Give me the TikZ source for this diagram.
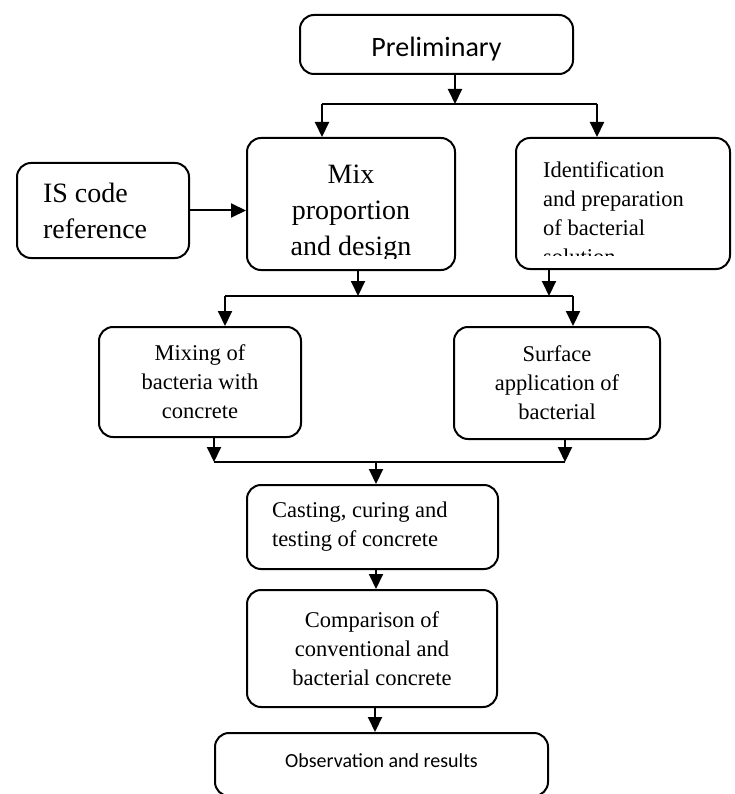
\documentclass[tikz,border=0pt]{standalone}
\usepackage{fontspec}
\setmainfont{Liberation Serif}
\newfontfamily\calib{Carlito}
\usetikzlibrary{arrows.meta}
\begin{document}
\begin{tikzpicture}[x=1pt,y=-1pt,>={Triangle[length=15pt,width=14pt]},line join=round,
		box/.style={draw,line width=2pt,rounded corners=14pt,inner sep=0pt},
		big/.style={font=\fontsize{28}{36}\selectfont},
		mid/.style={font=\fontsize{22.5}{29}\selectfont},
		link/.style={line width=2pt}]
	\useasboundingbox (0,0) rectangle (734,794);
	% boxes
	\node[box,minimum width=273pt,minimum height=59pt,text height=25pt,text depth=0pt,font=\calib\fontsize{28}{34}\selectfont] (pre) at (436.5,44.5) {Preliminary};
	\node[box,big,align=flush left,text width=120pt,minimum width=172pt,minimum height=95pt] (iscode) at (103,210.5) {IS code\\reference};
	\node[box,minimum width=208pt,minimum height=132pt] (mix) at (351,204) {};
	\node[box,minimum width=214pt,minimum height=131pt] (ident) at (623,203.5) {};
	\node[box,mid,align=center,minimum width=202pt,minimum height=110pt] (mixing) at (200,382) {Mixing of\\bacteria with\\concrete};
	\node[box,mid,align=center,minimum width=206pt,minimum height=112pt] (surface) at (557,383) {Surface\\application of\\bacterial};
	\node[box,mid,align=flush left,text width=201pt,minimum width=251pt,minimum height=84pt] (cast) at (372.5,527) {Casting, curing and\\testing of concrete};
	\node[box,mid,align=center,minimum width=250pt,minimum height=117pt] (comp) at (372,648.5) {Comparison of\\conventional and\\bacterial concrete};
	\node[box,minimum width=333pt,minimum height=63pt,text height=14pt,text depth=9pt,font=\calib\fontsize{20}{24}\selectfont] (obs) at (381.5,764.5) {Observation and results};
	% cut texts
	\coordinate (mixcut) at (0,258);
	\coordinate (identcut) at (0,255);
	\begin{scope}
		\clip (mix.north west) rectangle (mix.east |- mixcut);
		\node[big,align=center,inner sep=0pt] (mixtxt) at (351,213) {Mix\\proportion\\and design};
	\end{scope}
	\begin{scope}
		\clip (ident.north west) rectangle (ident.east |- identcut);
		\node[mid,align=flush left,anchor=west,inner sep=0pt] (identtxt) at (543,213) {Identification\\and preparation\\of bacterial\\solution};
	\end{scope}
	% connectors
	\coordinate (ja) at (455,104);
	\coordinate (jal) at (322,104);
	\coordinate (jar) at (597,104);
	\draw[->,link] (pre.south -| ja)--(ja);
	\draw[link] (jal)--(jar);
	\draw[->,link] (jal)--(jal |- mix.north);
	\draw[->,link] (jar)--(jar |- ident.north);
	\draw[->,link] (iscode.east)--(iscode.east -| mix.west);
	\coordinate (jbm) at (358,296);
	\coordinate (jbi) at (549,296);
	\coordinate (jbl) at (225,296);
	\coordinate (jbr) at (573,296);
	\draw[->,link] (mix.south -| jbm)--(jbm);
	\draw[->,link] (ident.south -| jbi)--(jbi);
	\draw[link] (jbl)--(jbr);
	\draw[->,link] (jbl)--(jbl |- mixing.north);
	\draw[->,link] (jbr)--(jbr |- surface.north);
	\coordinate (jcl) at (214,462);
	\coordinate (jcr) at (565,462);
	\coordinate (jc) at (376,462);
	\draw[->,link] (mixing.south -| jcl)--(jcl);
	\draw[->,link] (surface.south -| jcr)--(jcr);
	\draw[link] (jcl)--(jcr);
	\draw[->,link] (jc)--(jc |- cast.north);
	\draw[->,link] ([xshift=3.5pt]cast.south)--([xshift=3.5pt]cast.south |- comp.north);
	\draw[->,link] ([xshift=3pt]comp.south)--([xshift=3pt]comp.south |- obs.north);
\end{tikzpicture}
\end{document}
